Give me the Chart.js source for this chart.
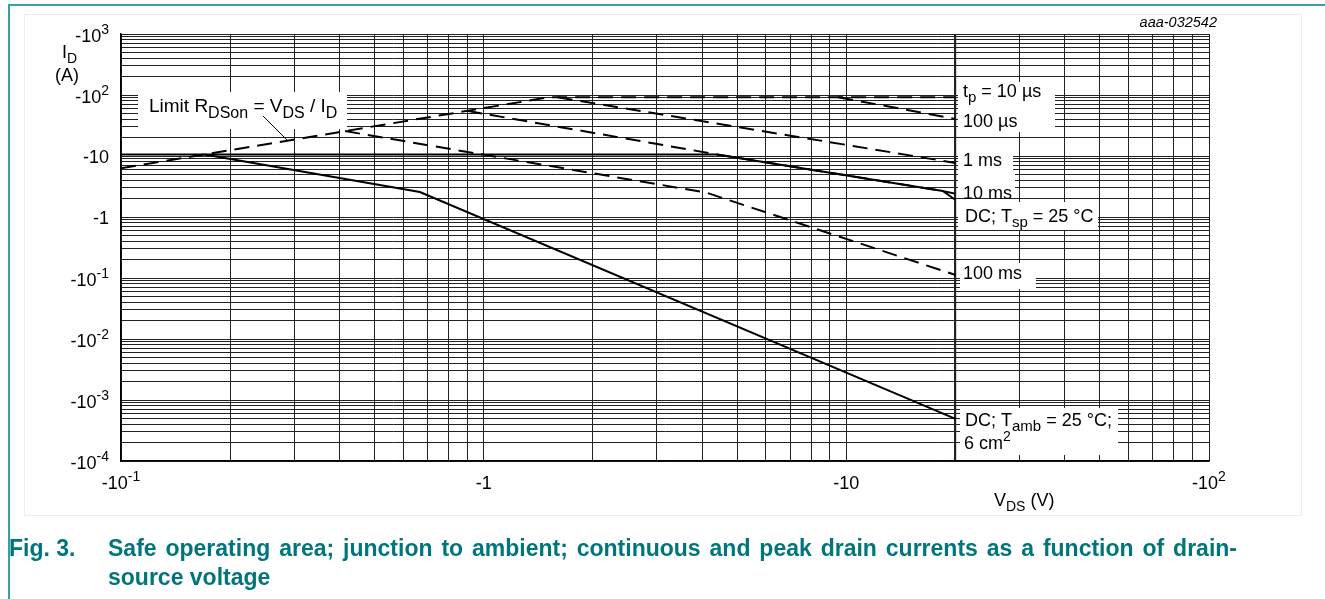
<!DOCTYPE html>
<html>
<head>
<meta charset="utf-8">
<title>Safe operating area</title>
<script src="https://cdn.jsdelivr.net/npm/chart.js@4.4.1/dist/chart.umd.min.js"></script>
<style>
html,body{margin:0;padding:0;background:#fff;}
#wrap{position:relative;width:1325px;height:599px;overflow:hidden;}
canvas{display:block;}
</style>
</head>
<body>
<div id="wrap"><canvas id="soa" width="1325" height="599"></canvas></div>
<script>
// ---- series (magnitudes: V_DS in V, I_D in A; axis labels show the negative sign) ----
const tp10usV  = [0.1, 1.52, 20];
const tp10usI  = [6.3, 92, 92];
const tp100usV = [9.5, 20];
const tp100usI = [92, 40.5];
const tp1msV   = [1.6, 20];
const tp1msI   = [92, 7.7];
const tp10msV  = [0.9, 4.4, 18.45, 20];
const tp10msI  = [55, 10.6, 2.67, 2.4];
const tp100msV = [0.415, 4.1, 20];
const tp100msI = [25.6, 2.52, 0.112];
const dcTspV   = [0.1, 4.4, 18.45, 20];
const dcTspI   = [10.6, 10.6, 2.67, 1.9];
const dcTambV  = [0.17, 0.667, 20];
const dcTambI  = [10.6, 2.57, 0.00049];

// ---- ticks ----
const xTickValues = [0.1, 1, 10, 100];
const xTickBase   = ['-10', '-1', '-10', '-10'];
const xTickSup    = ['-1', '', '', '2'];
const yTickValues = [1000, 100, 10, 1, 0.1, 0.01, 0.001, 0.0001];
const yTickBase   = ['-10', '-10', '-10', '-1', '-10', '-10', '-10', '-10'];
const yTickSup    = ['3', '2', '', '', '-1', '-2', '-3', '-4'];
const gridMantissas = [1, 2, 3, 4, 5, 6, 7, 8, 9];
const xDecades = [0.1, 1, 10];
const yDecades = [0.0001, 0.001, 0.01, 0.1, 1, 10, 100];
const vdsMax = 20;

const FONT = '"Liberation Sans", Arial, Helvetica, sans-serif';
const TEAL = '#00767c';

function gridValues(decades, top) {
  const out = [];
  decades.forEach(d => gridMantissas.forEach(m => out.push(Number((m * d).toPrecision(6)))));
  out.push(top);
  return out;
}
const xGrid = gridValues(xDecades, 100);
const yGrid = gridValues(yDecades, 1000);

function pts(xs, ys) { return xs.map((x, i) => ({ x: x, y: ys[i] })); }

function ds(label, xs, ys, dashed) {
  return {
    label: label, data: pts(xs, ys), showLine: true, pointRadius: 0,
    borderColor: '#000', borderWidth: 2, borderDash: dashed ? [15, 8] : [],
    tension: 0, fill: false
  };
}

// rich text: "_{..}" subscript, "^{..}" superscript
function parseRich(str) {
  const parts = []; const re = /([_^])\{([^}]*)\}/g; let last = 0, m;
  while ((m = re.exec(str)) !== null) {
    if (m.index > last) parts.push({ t: str.slice(last, m.index) });
    parts.push({ t: m[2], sub: m[1] === '_', sup: m[1] === '^' });
    last = re.lastIndex;
  }
  if (last < str.length) parts.push({ t: str.slice(last) });
  return parts;
}
function rich(ctx, str, x, y, size, align, opts) {
  opts = opts || {};
  const weight = opts.weight || 'normal';
  const style = opts.style || 'normal';
  const small = opts.small || Math.round(size * 0.72);
  const parts = parseRich(str);
  let w = 0;
  const segs = parts.map(p => {
    const s = (p.sub || p.sup) ? small : size;
    ctx.font = `${style} ${weight} ${s}px ${FONT}`;
    const mw = ctx.measureText(p.t).width; w += mw;
    return { p, s, mw };
  });
  let cx = align === 'right' ? x - w : align === 'center' ? x - w / 2 : x;
  ctx.textAlign = 'left'; ctx.textBaseline = 'alphabetic';
  ctx.fillStyle = opts.color || '#000';
  segs.forEach(({ p, s, mw }) => {
    ctx.font = `${style} ${weight} ${s}px ${FONT}`;
    const dy = p.sub ? size * 0.3 : p.sup ? -size * 0.42 : 0;
    ctx.fillText(p.t, cx, y + dy);
    cx += mw;
  });
}
// justified single line (word by word)
function justified(ctx, str, x, y, width, font, color) {
  ctx.font = font; ctx.fillStyle = color; ctx.textAlign = 'left'; ctx.textBaseline = 'alphabetic';
  const words = str.split(' ');
  const total = words.reduce((a, w) => a + ctx.measureText(w).width, 0);
  const gap = (width - total) / (words.length - 1);
  let cx = x;
  words.forEach(w => { ctx.fillText(w, cx, y); cx += ctx.measureText(w).width + gap; });
}

const decor = {
  id: 'soaDecor',
  beforeDraw(chart) {
    const c = chart.ctx;
    c.save();
    c.fillStyle = '#fff'; c.fillRect(0, 0, chart.width, chart.height);
    c.strokeStyle = '#ededed'; c.lineWidth = 1;
    c.strokeRect(24.5, 14.5, 1277, 501);
    c.strokeStyle = '#3c9ea3'; c.lineWidth = 2;
    c.beginPath(); c.moveTo(9, 599); c.lineTo(9, 5); c.lineTo(1325, 5); c.stroke();
    c.restore();
  },
  beforeDatasetsDraw(chart) {
    const c = chart.ctx;
    c.save(); c.fillStyle = '#fff';
    [[138, 92, 209, 37], [958, 82, 97, 50], [958, 140, 55, 30], [958, 172, 57, 25],
     [958, 202, 140, 28], [960, 263, 76, 26], [960, 408, 158, 47]].forEach(r => c.fillRect(r[0], r[1], r[2], r[3]));
    c.restore();
  },
  afterDatasetsDraw(chart) {
    const c = chart.ctx;
    const xs = chart.scales.x, ys = chart.scales.y;
    c.save();
    // tick labels
    yTickValues.forEach((v, i) => {
      const py = ys.getPixelForValue(v);
      const sup = yTickSup[i];
      rich(c, yTickBase[i] + (sup ? '^{' + sup + '}' : ''), 109, py + (sup ? 8 : 6.5), 18, 'right', { small: 14 });
    });
    xTickValues.forEach((v, i) => {
      const px = xs.getPixelForValue(v);
      const sup = xTickSup[i];
      rich(c, xTickBase[i] + (sup ? '^{' + sup + '}' : ''), px, 489, 18, 'center', { small: 14 });
    });
    // axis titles
    rich(c, 'I_{D}', 62, 58, 18, 'left', { small: 14 });
    rich(c, '(A)', 55, 81, 18, 'left');
    rich(c, 'V_{DS} (V)', 994, 506, 18, 'left', { small: 14 });
    // annotations
    rich(c, 'Limit R_{DSon} = V_{DS} / I_{D}', 149, 112, 19, 'left', { small: 16 });
    c.strokeStyle = '#000'; c.lineWidth = 1;
    c.beginPath(); c.moveTo(263, 116); c.lineTo(287, 140); c.stroke();
    rich(c, 't_{p} = 10 µs', 963, 97, 18, 'left', { small: 15 });
    rich(c, '100 µs', 963, 127, 18, 'left');
    rich(c, '1 ms', 963, 166, 18, 'left');
    rich(c, '10 ms', 963, 199, 18, 'left');
    rich(c, 'DC; T_{sp} = 25 °C', 965, 222, 18, 'left', { small: 15 });
    rich(c, '100 ms', 963, 279, 18, 'left');
    rich(c, 'DC; T_{amb} = 25 °C;', 965, 426, 18, 'left', { small: 15 });
    rich(c, '6 cm^{2}', 964, 449, 18, 'left', { small: 14 });
    // figure id & caption
    rich(c, 'aaa-032542', 1217, 27, 14.5, 'right', { style: 'italic' });
    const capFont = `bold 23px ${FONT}`;
    rich(c, 'Fig. 3.', 9, 556, 23, 'left', { weight: 'bold', color: TEAL });
    justified(c, 'Safe operating area; junction to ambient; continuous and peak drain currents as a function of drain-', 108, 556, 1129, capFont, TEAL);
    rich(c, 'source voltage', 108, 585, 23, 'left', { weight: 'bold', color: TEAL });
    c.restore();
  }
};

new Chart(document.getElementById('soa'), {
  type: 'scatter',
  data: {
    datasets: [
      ds('tp = 10 µs (with R_DSon limit)', tp10usV, tp10usI, true),
      ds('100 µs', tp100usV, tp100usI, true),
      ds('1 ms', tp1msV, tp1msI, true),
      ds('10 ms', tp10msV, tp10msI, true),
      ds('100 ms', tp100msV, tp100msI, true),
      ds('DC; Tsp = 25 °C', dcTspV, dcTspI, false),
      ds('DC; Tamb = 25 °C; 6 cm2', dcTambV, dcTambI, false)
    ]
  },
  options: {
    responsive: false, animation: false, devicePixelRatio: 1,
    layout: { padding: { left: 121, right: 116, top: 34, bottom: 138 } },
    plugins: { legend: { display: false }, tooltip: { enabled: false } },
    scales: {
      x: {
        type: 'logarithmic', min: 0.1, max: 100,
        afterBuildTicks: s => { s.ticks = xGrid.map(v => ({ value: v })); },
        ticks: { display: false },
        grid: { color: '#222', drawTicks: false,
          lineWidth: c => (c.tick && Math.abs(c.tick.value - vdsMax) < 1e-9) ? 2.2 : 1 },
        border: { display: true, color: '#000', width: 1.5 }
      },
      y: {
        type: 'logarithmic', min: 0.0001, max: 1000,
        afterBuildTicks: s => { s.ticks = yGrid.map(v => ({ value: v })); },
        ticks: { display: false },
        grid: { color: '#222', drawTicks: false, lineWidth: 1 },
        border: { display: true, color: '#000', width: 1.5 }
      }
    }
  },
  plugins: [decor]
});
</script>
</body>
</html>
